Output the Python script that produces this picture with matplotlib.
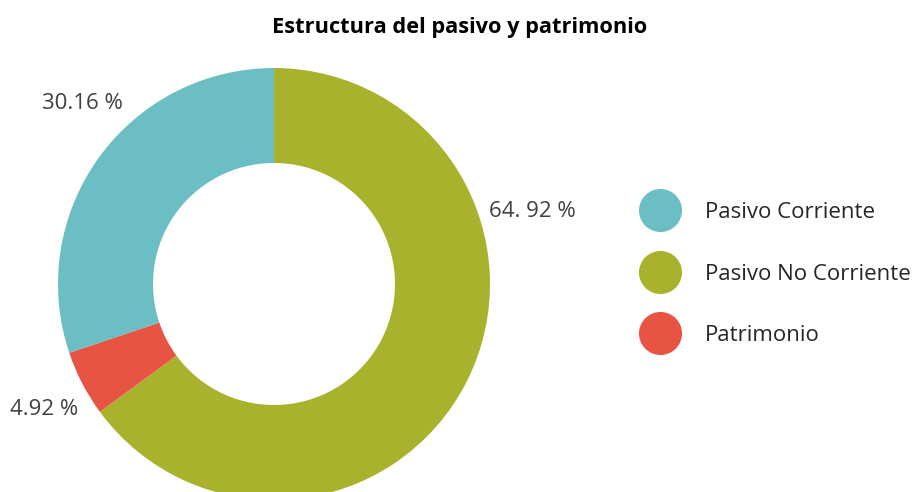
import numpy as np
import matplotlib.pyplot as plt
from matplotlib.lines import Line2D

plt.rcParams['font.family'] = ['Open Sans', 'DejaVu Sans']

categories = ['Pasivo No Corriente', 'Patrimonio', 'Pasivo Corriente']
values = [64.92, 4.92, 30.16]
value_labels = ['64. 92 %', '4.92 %', '30.16 %']
colors = ['#A8B22D', '#E85443', '#6BBEC3']
legend_order = ['Pasivo Corriente', 'Pasivo No Corriente', 'Patrimonio']

fig = plt.figure(figsize=(9.19, 4.92), dpi=100)
ax = fig.add_axes([0, 0, 1, 1])

# work in pixel units, y measured from the bottom
cx, cy, r = 274, 492 - 284, 216
wedges, _ = ax.pie(values, colors=colors, startangle=90, counterclock=False,
                   center=(cx, cy), radius=r, frame=True,
                   wedgeprops=dict(width=95, edgecolor='none'))
ax.set_xlim(0, 919)
ax.set_ylim(0, 492)
ax.set_aspect('equal')
ax.axis('off')

# label angles (degrees) and distance from center
label_angles = [15.6, -151.3, 136.8]
label_dist = [268, 262, 263]
for txt, a, d in zip(value_labels, label_angles, label_dist):
    t = np.deg2rad(a)
    ax.text(cx + d * np.cos(t), cy + d * np.sin(t), txt, ha='center', va='center',
            fontsize=16, color='#404040')

ax.text(459.5, 492 - 27, 'Estructura del pasivo y patrimonio', ha='center', va='center',
        fontsize=15.7, fontweight='bold', color='#000000')

handles = [Line2D([], [], marker='o', linestyle='none', markersize=31,
                  markerfacecolor=colors[categories.index(c)], markeredgecolor='none')
           for c in legend_order]
ax.legend(handles, legend_order, loc='center left', bbox_to_anchor=(0.682, 0.443),
          frameon=False, fontsize=16, labelspacing=1.83, handletextpad=1.0,
          labelcolor='#262626', borderpad=0)

fig.savefig('out.png', dpi=100)
